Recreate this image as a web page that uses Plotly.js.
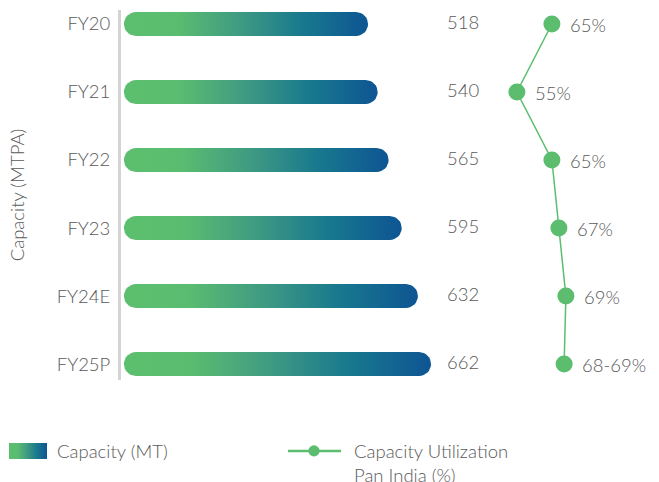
<!DOCTYPE html>
<html>
<head>
<meta charset="utf-8">
<script src="https://cdn.plot.ly/plotly-3.0.1.min.js"></script>
<style>
  html, body { margin: 0; padding: 0; background: #ffffff; }
  #chart { width: 659px; height: 482px; }
</style>
</head>
<body>
<div id="chart"></div>
<script>
// Fiscal years, installed capacity (MT) and pan-India utilisation (%)
var years = ['FY20', 'FY21', 'FY22', 'FY23', 'FY24E', 'FY25P'];
var capacity = [518, 540, 565, 595, 632, 662];
var utilization = [65, 55, 65, 67, 69, 68.5];
var utilizationLabels = ['65%', '55%', '65%', '67%', '69%', '68-69%'];

// Geometry of the plotting area
var W = 659, H = 482;
var M = { l: 121, r: 0, t: 10, b: 102 };
var plotW = W - M.l - M.r;
var plotH = H - M.t - M.b;

var xRange = [-46.6, 1183];      // capacity axis
var x2Range = [-58.1, 95.6];     // utilisation axis
var yRange = [5.235, -0.206];    // category index, top to bottom
var barBase = -40;               // where the rounded bars start
var barHalfPx = 12;              // half thickness of a bar in pixels

var pxPerX = plotW / (xRange[1] - xRange[0]);
var pxPerY = plotH / Math.abs(yRange[0] - yRange[1]);

var textColor = '#595959';
var green = '#5cbd6f';
var baseFont = { family: 'Lato', size: 18.5, color: textColor, weight: 300 };
var gradient = [
  [0, '#5cbf6e'],
  [0.22, '#5abc70'],
  [0.48, '#3f9a82'],
  [0.73, '#18798e'],
  [1, '#0e5593']
];

// Rounded (capsule) outline from barBase to the value, in data units
function capsule(value, yc) {
  var rx = barHalfPx / pxPerX;
  var ry = barHalfPx / pxPerY;
  var xs = [], ys = [];
  var n = 16, i, a;
  for (i = 0; i <= n; i++) {            // right cap
    a = -Math.PI / 2 + Math.PI * i / n;
    xs.push(value - rx + rx * Math.cos(a));
    ys.push(yc + ry * Math.sin(a));
  }
  for (i = 0; i <= n; i++) {            // left cap
    a = Math.PI / 2 + Math.PI * i / n;
    xs.push(barBase + rx + rx * Math.cos(a));
    ys.push(yc + ry * Math.sin(a));
  }
  xs.push(xs[0]); ys.push(ys[0]);
  return { x: xs, y: ys };
}

var traces = [];
capacity.forEach(function (v, i) {
  var c = capsule(v, i);
  traces.push({
    type: 'scatter',
    mode: 'lines',
    x: c.x,
    y: c.y,
    fill: 'toself',
    fillgradient: { type: 'horizontal', colorscale: gradient },
    line: { width: 0, color: 'rgba(0,0,0,0)' },
    name: 'Capacity (MT)',
    legend: 'legend',
    legendgroup: 'cap',
    showlegend: i === 0,
    hoverinfo: 'skip',
    xaxis: 'x',
    yaxis: 'y'
  });
});

traces.push({
  type: 'scatter',
  mode: 'lines+markers',
  x: utilization,
  y: years.map(function (_, i) { return i; }),
  line: { color: green, width: 1.5 },
  marker: { color: green, size: 17 },
  name: 'Capacity Utilization<br>Pan India (%)',
  legend: 'legend2',
  xaxis: 'x2',
  yaxis: 'y',
  cliponaxis: false
});

// Capacity values in a column right of the bars
var annotations = capacity.map(function (v, i) {
  return {
    xref: 'paper', yref: 'y',
    x: (445 - M.l) / plotW, y: i,
    xanchor: 'left', yanchor: 'middle',
    yshift: 2,
    text: String(v),
    showarrow: false,
    font: baseFont
  };
});

// Utilisation labels beside the markers
utilization.forEach(function (u, i) {
  annotations.push({
    xref: 'x2', yref: 'y',
    x: u, y: i,
    xanchor: 'left', yanchor: 'middle',
    xshift: 16, yshift: -1,
    text: utilizationLabels[i],
    showarrow: false,
    font: baseFont
  });
});

function legendBox(xPx, itemWidth) {
  return {
    orientation: 'h',
    xref: 'container', yref: 'container',
    x: xPx / W, y: 0.103,
    xanchor: 'left', yanchor: 'top',
    valign: 'top',
    itemwidth: itemWidth,
    font: baseFont,
    bgcolor: 'rgba(0,0,0,0)'
  };
}

var layout = {
  width: W,
  height: H,
  margin: M,
  paper_bgcolor: '#ffffff',
  plot_bgcolor: '#ffffff',
  font: baseFont,
  showlegend: true,
  legend: legendBox(3, 44),
  legend2: legendBox(286, 58),
  xaxis: { range: xRange, visible: false, fixedrange: true },
  xaxis2: { range: x2Range, visible: false, overlaying: 'x', fixedrange: true },
  yaxis: {
    range: yRange,
    tickmode: 'array',
    tickvals: years.map(function (_, i) { return i; }),
    ticktext: years,
    showgrid: false,
    zeroline: false,
    showline: true,
    linecolor: '#d4d4d4',
    linewidth: 3,
    ticks: '',
    ticklabelstandoff: 4,
    tickfont: baseFont,
    title: { text: 'Capacity (MTPA)', standoff: 28, font: baseFont },
    fixedrange: true
  },
  annotations: annotations
};

Plotly.newPlot('chart', traces, layout, { displayModeBar: false, staticPlot: true }).then(function (gd) {
  // Legend keys: a solid gradient block for the bars ...
  gd.querySelectorAll('.legendfill path').forEach(function (p) {
    p.setAttribute('d', 'M6,-8h38v16h-38z');
  });
  // ... and a longer line with a smaller dot for the utilisation trace
  var lg2 = gd.querySelector('g.legend2');
  if (lg2) {
    lg2.querySelectorAll('.legendlines path').forEach(function (p) {
      p.setAttribute('d', 'M2,0h53');
      p.style.strokeWidth = '2.5px';
    });
    lg2.querySelectorAll('.legendpoints path').forEach(function (p) {
      p.setAttribute('transform', 'translate(28,0) scale(0.7)');
    });
  }
});
</script>
</body>
</html>
